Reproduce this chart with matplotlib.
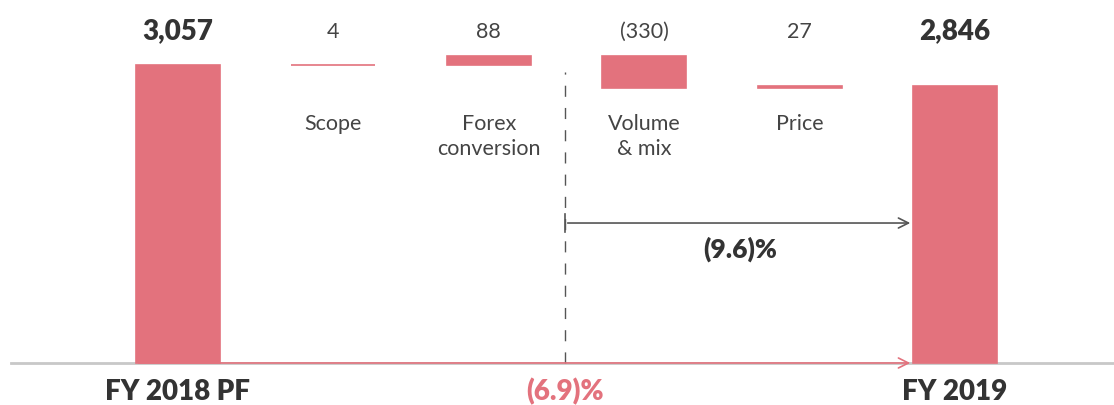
import numpy as np
import matplotlib.pyplot as plt

plt.rcParams['font.family'] = ['Lato', 'DejaVu Sans']

categories = ["FY 2018 PF", "Scope", "Forex\nconversion", "Volume\n& mix", "Price", "FY 2019"]
deltas = [3057, 4, 88, -330, 27, 2846]
value_labels = ["3,057", "4", "88", "(330)", "27", "2,846"]
is_total = [True, False, False, False, False, True]
pct_total = "(6.9)%"
pct_organic = "(9.6)%"

pink = "#e3727d"
dark = "#333333"

# waterfall bottoms / heights
bottoms = []
heights = []
running = 0
for d, tot in zip(deltas, is_total):
    if tot:
        bottoms.append(0)
        heights.append(d)
        running = d
    else:
        if d >= 0:
            bottoms.append(running)
        else:
            bottoms.append(running + d)
        heights.append(abs(d))
        running += d

fig = plt.figure(figsize=(11.14, 4.05), dpi=100)
ax = fig.add_axes([0, 0, 1, 1])
x = np.arange(len(categories))
w = 0.54
ax.bar(x, heights, bottom=bottoms, width=w, color=pink, edgecolor=pink, linewidth=1.2, zorder=2)

ax.set_xlim(-1.145, 6.023)
ax.set_ylim(-431, 3724)
ax.axis("off")

# baseline
ax.axhline(0, xmin=0.01, xmax=1, color="#c8c8c8", lw=2, zorder=1)

for i in range(len(categories)):
    if is_total[i]:
        ax.text(x[i], 3400, value_labels[i], ha="center", va="center", fontsize=20,
                fontweight="heavy", color=dark)
        ax.text(x[i], -298, categories[i], ha="center", va="center", fontsize=20,
                fontweight="heavy", color=dark)
    else:
        ax.text(x[i], 3400, value_labels[i], ha="center", va="center", fontsize=15.5,
                color="#444444")
        ax.text(x[i], 2555, categories[i], ha="center", va="top", fontsize=15.5,
                color="#444444", linespacing=1.3)

# dashed divider
xd = 2.49
ax.plot([xd, xd], [0, 2990], color="#555555", lw=1, dashes=(8, 8), zorder=1)

# organic arrow
x_end = x[-1] - w / 2
ax.annotate("", xy=(x_end, 1436), xytext=(xd, 1436),
            arrowprops=dict(arrowstyle="->", color="#555555", lw=1.2, mutation_scale=18))
ax.plot([xd, xd], [1340, 1530], color="#555555", lw=1.2)
ax.text(3.62, 1170, pct_organic, ha="center", va="center", fontsize=19,
        fontweight="heavy", color=dark)

# total arrow along baseline
ax.annotate("", xy=(x_end, 0), xytext=(x[0] - w / 2, 0),
            arrowprops=dict(arrowstyle="->", color=pink, lw=1.2, mutation_scale=18), zorder=3)
ax.text(xd, -298, pct_total, ha="center", va="center", fontsize=20,
        fontweight="heavy", color=pink)

fig.savefig("out.png", dpi=100)
